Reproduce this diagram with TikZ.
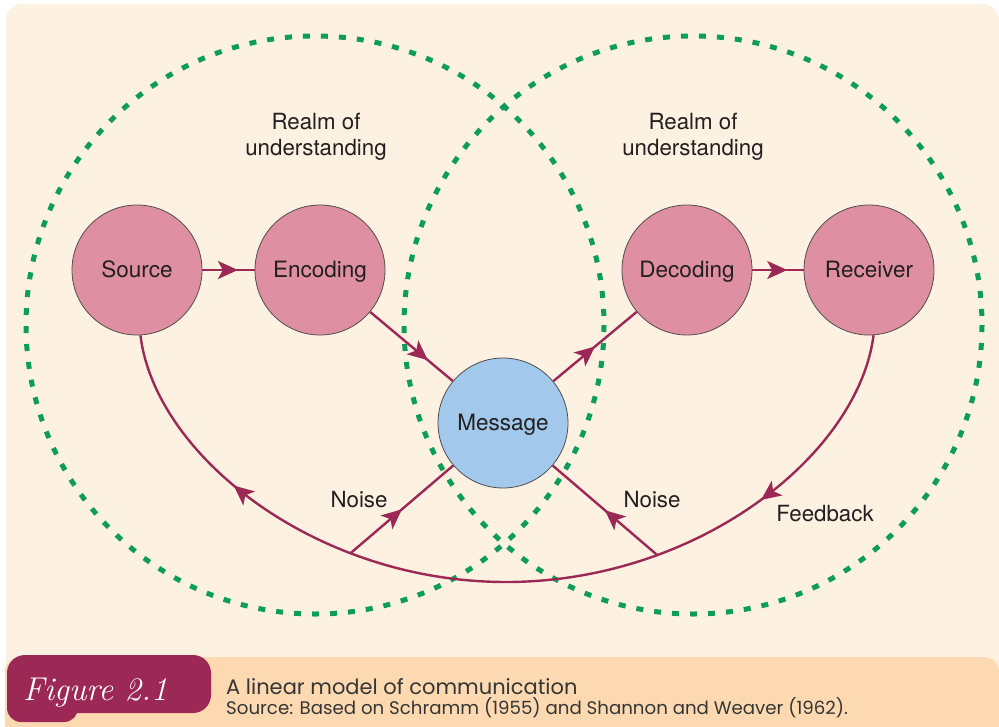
\documentclass[tikz,border=0pt]{standalone}
\usepackage{fontspec}
\usetikzlibrary{arrows.meta,decorations.markings}
\newfontfamily\heros{TeX Gyre Heros}
\newfontfamily\capfont{Poppins}
\definecolor{cream}{HTML}{FDF1E1}
\definecolor{band}{HTML}{FCD9B0}
\definecolor{mag}{HTML}{9C2955}
\definecolor{pinkfill}{HTML}{DF8FA2}
\definecolor{bluefill}{HTML}{A2C9EB}
\definecolor{realmgreen}{HTML}{0D9D5B}
\definecolor{ink}{HTML}{231F20}
\definecolor{capink}{HTML}{353535}
\begin{document}
\begin{tikzpicture}[x=1pt,y=-1pt,
  bubble/.style={circle, minimum size=130pt, inner sep=0pt, draw=ink!80, line width=0.8pt,
    fill=pinkfill, text=ink, text height=17pt, text depth=3pt,
    font=\heros\fontsize{22.5}{26}\selectfont},
  lbl/.style={text=ink, inner sep=0pt, align=center, font=\heros\fontsize{22.3}{26.5}\selectfont},
  conn/.style={draw=mag, line width=2.4pt},
  tipmark/.tip={Stealth[length=20pt,width=18pt,inset=5pt]},
  midarrow/.style={postaction={decorate}, decoration={markings,
    mark=at position #1 with {\arrow[mag]{tipmark}}}},
  twoarrows/.style={postaction={decorate}, decoration={markings,
    mark=at position 0.215 with {\arrow[mag]{tipmark}},
    mark=at position 0.81 with {\arrow[mag]{tipmark}}}},
  realm/.style={draw=realmgreen, line width=5pt, dash pattern=on 7pt off 11pt}
]
\useasboundingbox (0,0) rectangle (999,726);
\fill[white] (0,0) rectangle (999,726);
% background panels
\fill[cream, rounded corners=16pt] (6,4) rectangle (999,700);
\fill[band, rounded corners=15pt] (5,657) rectangle (999,745);
% realms
\draw[realm] (315,325) circle[radius=289];
\draw[realm] (693,325) circle[radius=289];
% nodes
\node[bubble] (src) at (137,270) {Source};
\node[bubble] (enc) at (320,270) {Encoding};
\node[bubble] (dec) at (687,270) {Decoding};
\node[bubble] (rec) at (869,270) {Receiver};
\node[bubble, fill=bluefill] (msg) at (503,423) {Message};
% connectors
\draw[conn, midarrow=0.68] (src) -- (enc);
\draw[conn, midarrow=0.7] (enc) -- (msg);
\draw[conn, midarrow=0.5] (msg) -- (dec);
\draw[conn, midarrow=0.68] (dec) -- (rec);
\draw[conn, twoarrows] (rec.-86) .. controls (858,455) and (698,582) .. (506,582)
  coordinate[pos=0.72] (nr)
  .. controls (315,582) and (155,455) .. (src.-87)
  coordinate[pos=0.29] (nl);
\draw[conn, midarrow=0.5] (nl) -- (msg);
\draw[conn, midarrow=0.5] (nr) -- (msg);
% labels
\node[lbl] (realmL) at (316,137) {Realm of\\understanding};
\node[lbl] (realmR) at (693,137) {Realm of\\understanding};
\node[lbl] (noiseL) at (359,500) {Noise};
\node[lbl] (noiseR) at (652,500) {Noise};
\node[lbl] (fb) at (825,514) {Feedback};
% figure badge
\fill[mag, rounded corners=18pt] (7,655) rectangle (211,713);
\fill[mag, rounded corners=14pt] (7,680) rectangle (78,722);
\node[anchor=base west, inner sep=0pt, text=white, font=\fontsize{33}{33}\selectfont\itshape] (figlbl) at (23,700) {Figure 2.1};
\node[anchor=base west, inner sep=0pt, text=capink, font=\capfont\fontsize{21}{24}\selectfont] (cap1) at (226,694) {A linear model of communication};
\node[anchor=base west, inner sep=0pt, text=capink, font=\capfont\fontsize{18.2}{20}\selectfont] (cap2) at (226,714) {Source: Based on Schramm (1955) and Shannon and Weaver (1962).};
\end{tikzpicture}
\end{document}
